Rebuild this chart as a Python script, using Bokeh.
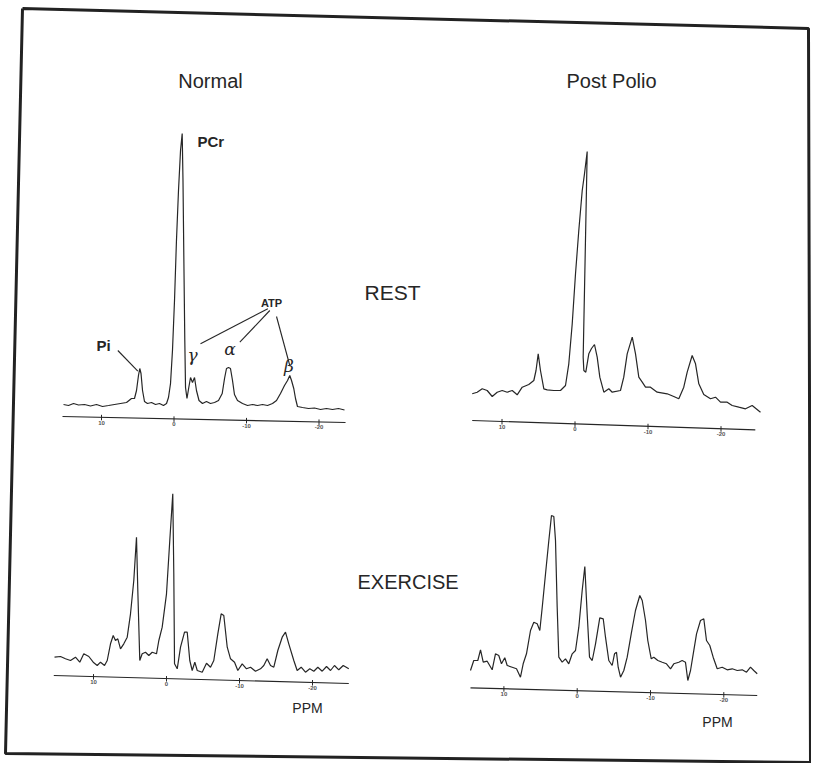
import numpy as np
from bokeh.plotting import figure
from bokeh.models import Range1d
from bokeh.embed import file_html
from bokeh.resources import INLINE
from bokeh.core.properties import value

# ---------------- data ----------------
tick_values = [10, 0, -10, -20]
tick_labels = ["10", "0", "-10", "-20"]

# Normal, REST  (ppm, intensity in arbitrary units)
nr_ppm = [15.24, 14.55, 13.86, 13.17, 12.34, 11.52, 10.69, 9.86, 9.03, 8.21, 7.38, 6.55, 5.86, 5.45,
          5.17, 4.9, 4.72, 4.55, 4.34, 4.07, 3.66, 3.1, 2.55, 2.0, 1.45, 1.03, 0.76, 0.48, 0.21,
          -0.07, -0.34, -0.62, -0.9, -1.13, -1.24, -1.35, -1.49, -1.59, -1.79, -2.04, -2.28, -2.55,
          -2.83, -3.1, -3.45, -3.93, -4.48, -5.03, -5.59, -6.14, -6.65, -6.97, -7.24, -7.52, -7.79,
          -8.07, -8.34, -8.76, -9.45, -10.14, -10.83, -11.52, -12.21, -12.9, -13.59, -14.14, -14.69,
          -15.24, -15.66, -15.97, -16.21, -16.52, -16.76, -17.03, -17.72, -18.55, -19.38, -20.21,
          -21.03, -21.86, -22.69, -23.52]
nr_int = [2, 1, 3, 1.5, 2, 0.5, 2, 0, 1, 2, 3, 4, 8, 8,
          16, 31, 38, 33, 16, 5, 3, 4, 2, 3, 1, 3, 9, 23, 56,
          106, 166, 216, 256, 273, 226, 153, 66, 19, 8, 19, 29, 24,
          29, 16, 6, 3, 5, 3, 4, 6, 13, 28, 38, 39, 38,
          26, 12, 6, 3, 1, 2, 1, 2, 1, 3, 6, 13,
          21, 26, 31, 26, 18, 8, 0, -1, -2, -1.5, -3,
          -2, -3, -2, -3.5]
nr_axis_ppm = [15.38, -23.66]
nr_axis_int = [-10, -16]

# Post Polio, REST
pr_ppm = [14.08, 13.40, 12.71, 12.03, 11.34, 10.66, 9.97, 9.29, 8.60, 7.92, 7.23, 6.33, 5.64, 5.34,
          5.04, 4.73, 4.27, 3.81, 2.90, 1.99, 1.30, 0.85, 0.38, -0.07, -0.52, -0.99, -1.30, -1.67,
          -1.48, -1.30, -1.12, -1.21, -1.48, -1.89, -2.26, -2.67, -3.04, -3.40, -3.95, -4.63, -5.10,
          -6.23, -6.68, -7.15, -7.84, -8.29, -8.74, -9.21, -9.66, -10.34, -11.26, -12.63, -13.53,
          -14.22, -14.90, -15.37, -16.05, -16.51, -16.96, -17.64, -18.56, -19.25, -19.93, -20.85,
          -21.53, -22.44, -23.36, -24.27, -25.41]
pr_int = [-1.3, 0.3, 3.7, 2, -4, 0.3, 2, 0.3, 2, -2.3, 5.3, 8, 12, 22,
          38.7, 22, 3.7, 2.7, 2, 2, 7, 28.7, 68.7, 118.7, 162, 202, 218.7, 241,
          169, 102, 35.3, 22, 20.3, 38.7, 44, 48, 35.3, 15.3, 0.3, 3.7, 0.3,
          2, 15.3, 38.7, 55.3, 38.7, 15.3, 10.3, 5.3, 5.3, 0.3, -1.3, -4,
          -6.3, 5.3, 20.3, 37, 28.7, 8.7, -2, -6.3, -4.7, -9.7, -9.7,
          -13, -14.7, -16.3, -13, -19.7]
pr_axis_ppm = [14.08, -24.7]
pr_axis_int = [-28, -37.3]

# Normal, EXERCISE
ne_ppm = [15.34, 14.52, 13.84, 13.15, 12.47, 11.88, 11.33, 10.64, 10.04, 9.49, 9.04, 8.49, 8.12,
          7.67, 7.30, 6.99, 6.67, 6.30, 5.85, 5.38, 4.93, 4.48, 4.11, 3.93, 3.66, 3.33, 2.88, 2.42,
          1.96, 1.37, 1.05, 0.59, 0.00, -0.45, -0.86, -1.00, -1.10, -1.47, -1.92, -2.47, -2.84,
          -3.19, -3.52, -3.88, -4.21, -4.89, -5.48, -6.03, -6.48, -7.03, -7.49, -7.85, -8.32,
          -8.77, -9.32, -9.77, -10.37, -10.96, -11.51, -12.19, -12.88, -13.33, -13.79, -14.25,
          -14.70, -15.25, -15.85, -16.30, -16.75, -17.44, -17.90, -18.45, -19.04, -19.63, -20.18,
          -20.73, -21.33, -21.92, -22.47, -23.01, -23.60, -24.21, -24.97]
ne_int = [11.3, 12, 9.7, 8, 11.3, 6.3, 14.7, 12, 6.3, 3, 6.3, 3, 8,
          24.7, 33, 28, 29.7, 19.7, 24.7, 31.3, 54.7, 88, 131.3, 78, 8, 14.7, 16.3, 13,
          16.3, 14.7, 28, 41.3, 74.7, 128, 174.7, 94.7, 4.7, -0.3, 21.3, 36.3, 36.3,
          8, -2, 6.3, -2, -3.7, 5.3, 1.3, 8, 34.7, 54.7, 53, 21.3,
          9.7, 6.3, -2, 4.7, -0.3, 1.3, -2.7, -0.3, 3, 9.7, 3,
          1.3, 18, 31.3, 36.3, 24.7, 8, -2, 1.3, -3.7, -0.3, -2.7,
          1.3, -2.7, 2, -2, 3, -1.3, 3, -0.3]
ne_axis_ppm = [15.44, -24.97]
ne_axis_int = [-7, -15]

# Post Polio, EXERCISE
pe_ppm = [14.56, 14.11, 13.56, 13.19, 12.82, 12.28, 11.60, 11.15, 10.70, 10.33, 9.88, 9.55, 8.87,
          8.28, 7.74, 7.37, 6.92, 6.37, 5.92, 5.46, 5.10, 4.77, 4.32, 3.87, 3.51, 3.19, 2.96, 2.73,
          2.51, 2.05, 1.60, 1.15, 0.68, 0.23, -0.22, -0.68, -1.04, -1.36, -1.68, -2.05, -2.50,
          -3.08, -3.55, -3.86, -4.31, -4.77, -5.09, -5.36, -5.59, -5.91, -6.36, -6.82, -7.37,
          -7.95, -8.54, -8.87, -9.32, -9.63, -10.10, -10.45, -11.00, -11.60, -12.18, -12.73,
          -13.18, -13.86, -14.32, -14.77, -15.09, -15.46, -15.83, -16.28, -16.82, -17.27, -17.64,
          -18.09, -18.55, -19.10, -19.78, -20.46, -21.15, -21.83, -22.51, -23.10, -23.64, -24.09,
          -24.56]
pe_int = [-5, 5, 5, 15.7, 3.3, 4.3, -4.3, 11.7, 10, 1.7, 7.7, 0, -1.7,
          -3.3, -11.7, 1.7, 11.7, 35, 43.3, 41.7, 35, 58.3, 91.7, 125, 150, 149, 125, 58.3,
          8.3, 3.3, 6.7, 1.7, 11.7, 15, 38.3, 75, 99, 51.7, 8.3, 5, 21.7,
          47.7, 46.7, 28.3, 5, 0, 11.7, 13.3, -1.7, -11.7, -5, 8.3, 31.7,
          55, 70, 65, 45, 25, 6.7, 8.3, 5, 3.3, 1.7, -3.3,
          1.7, 3.3, 5, 3.3, -15, -5, 11.7, 31.7, 45, 46.7, 25,
          20, 8.3, -3.3, -1.7, -4.3, -3.3, -5, -4.3, -6.7, -1.7, -5,
          -8.3]
pe_axis_ppm = [14.56, -24.56]
pe_axis_int = [-22.3, -30]

# leader lines of the peak labels (Normal, REST panel)
lead_ppm0 = [7.75, -3.66, -9.08, -14.14]
lead_int0 = [56, 62.7, 64.3, 90]
lead_ppm1 = [4.99, -12.94, -13.21, -15.97]
lead_int1 = [35.3, 97.7, 96, 41]

# ---------------- figure ----------------
W, H = 811, 763
X0, Y0 = 0, 0
p = figure(width=W, height=H, output_backend="svg", toolbar_location=None,
           x_range=Range1d(X0, X0 + W), y_range=Range1d(Y0 + H, Y0),
           x_axis_location=None, y_axis_location=None, min_border=0)
p.grid.visible = False
p.outline_line_color = None
p.background_fill_color = "white"
p.border_fill_color = "white"

INK = "#262626"

# panel placement: image x of 0 ppm, px per ppm, image y of zero intensity
panels = {
    "nr": (nr_ppm, nr_int, nr_axis_ppm, nr_axis_int, 173.5, 7.25, 406),
    "pr": (pr_ppm, pr_int, pr_axis_ppm, pr_axis_int, 574.5, 7.30, 392),
    "ne": (ne_ppm, ne_int, ne_axis_ppm, ne_axis_int, 166.0, 7.30, 668),
    "pe": (pe_ppm, pe_int, pe_axis_ppm, pe_axis_int, 576.7, 7.33, 665),
}

xr, yr = {}, {}
for name, (_, _, _, _, x0, sx, yb) in panels.items():
    xr[name] = Range1d((x0 - X0) / sx, (x0 - (X0 + W)) / sx)
    yr[name] = Range1d(yb - (Y0 + H), yb - Y0)
p.extra_x_ranges = xr
p.extra_y_ranges = yr

for name, (ppm, inten, ax_ppm, ax_int, x0, sx, yb) in panels.items():
    kw = dict(x_range_name=name, y_range_name=name)
    p.line(ppm, inten, line_color=INK, line_width=1.2, **kw)
    p.line(ax_ppm, ax_int, line_color=INK, line_width=1.2, **kw)
    t_int = np.interp(tick_values, ax_ppm[::-1], ax_int[::-1])
    p.segment(x0=tick_values, y0=t_int + 2.5, x1=tick_values, y1=t_int - 3,
              line_color=INK, line_width=1, **kw)
    p.text(x=tick_values, y=t_int - 3.5, text=tick_labels, text_font=value("Liberation Sans"),
           text_font_size="6px", text_font_style="bold", text_color="#555555",
           text_align="center", text_baseline="top", **kw)

# leader lines
p.segment(x0=lead_ppm0, y0=lead_int0, x1=lead_ppm1, y1=lead_int1, line_color=INK,
          line_width=1.1, x_range_name="nr", y_range_name="nr")

# frame
p.line([22, 808, 810, 5, 22], [8, 28, 762, 753, 8], line_color="#222222", line_width=3)

SANS = value("Liberation Sans")
# column / row titles
p.text(x=[210, 611], y=[80, 80], text=["Normal", "Post Polio"], text_font=SANS,
       text_font_size="20px", text_color=INK, text_align="center", text_baseline="middle")
p.text(x=[364], y=[292], text=["REST"], text_font=SANS,
       text_font_size="21px", text_color=INK, text_align="left", text_baseline="middle")
p.text(x=[357], y=[581], text=["EXERCISE"], text_font=SANS,
       text_font_size="20px", text_color=INK, text_align="left", text_baseline="middle")
p.text(x=[307, 717], y=[707, 721], text=["PPM", "PPM"], text_font=SANS,
       text_font_size="14px", text_color=INK, text_align="center", text_baseline="middle")

# peak labels
p.text(x=[197, 96], y=[141, 345], text=["PCr", "Pi"], text_font=SANS, text_font_size="15px",
       text_font_style="bold", text_color=INK, text_align="left", text_baseline="middle")
p.text(x=[271], y=[302], text=["ATP"], text_font=SANS, text_font_size="11px",
       text_font_style="bold", text_color=INK, text_align="center", text_baseline="middle")
p.text(x=[192, 229.5, 288.5], y=[354, 348, 365], text=["γ", "α", "β"],
       text_font=value("DejaVu Serif"), text_font_size="17px", text_font_style="italic",
       text_color=INK, text_align="center", text_baseline="middle")

open("out.html", "w").write(file_html(p, INLINE))
